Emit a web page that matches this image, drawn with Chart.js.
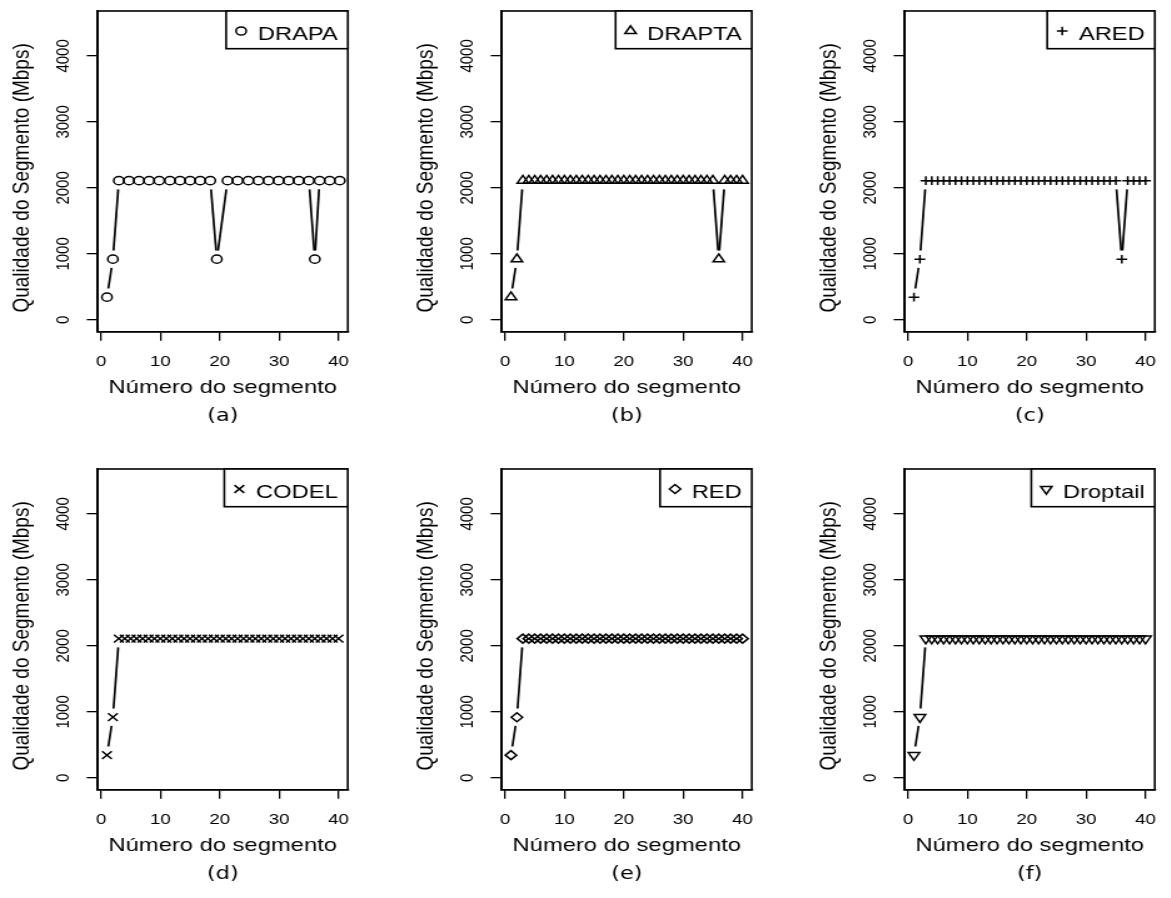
<!DOCTYPE html>
<html>
<head>
<meta charset="utf-8">
<title>Qualidade do segmento</title>
<script src="https://cdn.jsdelivr.net/npm/chart.js"></script>
<style>
  html, body { margin: 0; padding: 0; background: #fff; }
  body { width: 1171px; height: 898px; position: relative; overflow: hidden; }
  /* each panel is laid out narrow and widened horizontally */
  .panel { position: absolute; width: 291.4px; height: 430px; transform: scaleX(1.25); transform-origin: 0 0; }
</style>
</head>
<body>
<div class="panel" style="left:0px;top:0px"><canvas id="pa"></canvas></div>
<div class="panel" style="left:403.5px;top:0px"><canvas id="pb"></canvas></div>
<div class="panel" style="left:807px;top:0px"><canvas id="pc"></canvas></div>
<div class="panel" style="left:0px;top:458.3px"><canvas id="pd"></canvas></div>
<div class="panel" style="left:403.5px;top:458.3px"><canvas id="pe"></canvas></div>
<div class="panel" style="left:807px;top:458.3px"><canvas id="pf"></canvas></div>
<script>
// segment numbers
const segmentos = [1, 2, 3, 4, 5, 6, 7, 8, 9, 10, 11, 12, 13, 14, 15, 16, 17, 18, 19, 20,
                   21, 22, 23, 24, 25, 26, 27, 28, 29, 30, 31, 32, 33, 34, 35, 36, 37, 38, 39, 40];
// DRAPA downloads fewer segments, at its own positions
const segDrapa = [1, 2, 3, 4.7, 6.4, 8.1, 9.8, 11.6, 13.3, 15, 16.7, 18.4, 19.5,
                  21.3, 23, 24.8, 26.5, 28.2, 29.9, 31.6, 33.3, 35, 36, 36.8, 38.5, 40.2];

// quality (Mbps) per segment
const qualDrapa = [345, 920, 2110, 2110, 2110, 2110, 2110, 2110, 2110, 2110, 2110, 2110, 920,
                   2110, 2110, 2110, 2110, 2110, 2110, 2110, 2110, 2110, 920, 2110, 2110, 2110];
const qualDrapta = [345, 920, 2110, 2110, 2110, 2110, 2110, 2110, 2110, 2110, 2110, 2110, 2110, 2110, 2110, 2110, 2110, 2110, 2110, 2110,
                    2110, 2110, 2110, 2110, 2110, 2110, 2110, 2110, 2110, 2110, 2110, 2110, 2110, 2110, 2110, 920, 2110, 2110, 2110, 2110];
const qualAred = [345, 920, 2110, 2110, 2110, 2110, 2110, 2110, 2110, 2110, 2110, 2110, 2110, 2110, 2110, 2110, 2110, 2110, 2110, 2110,
                  2110, 2110, 2110, 2110, 2110, 2110, 2110, 2110, 2110, 2110, 2110, 2110, 2110, 2110, 2110, 920, 2110, 2110, 2110, 2110];
const qualCodel = [345, 920, 2110, 2110, 2110, 2110, 2110, 2110, 2110, 2110, 2110, 2110, 2110, 2110, 2110, 2110, 2110, 2110, 2110, 2110,
                   2110, 2110, 2110, 2110, 2110, 2110, 2110, 2110, 2110, 2110, 2110, 2110, 2110, 2110, 2110, 2110, 2110, 2110, 2110, 2110];
const qualRed = [345, 920, 2110, 2110, 2110, 2110, 2110, 2110, 2110, 2110, 2110, 2110, 2110, 2110, 2110, 2110, 2110, 2110, 2110, 2110,
                 2110, 2110, 2110, 2110, 2110, 2110, 2110, 2110, 2110, 2110, 2110, 2110, 2110, 2110, 2110, 2110, 2110, 2110, 2110, 2110];
const qualDroptail = [345, 920, 2110, 2110, 2110, 2110, 2110, 2110, 2110, 2110, 2110, 2110, 2110, 2110, 2110, 2110, 2110, 2110, 2110, 2110,
                      2110, 2110, 2110, 2110, 2110, 2110, 2110, 2110, 2110, 2110, 2110, 2110, 2110, 2110, 2110, 2110, 2110, 2110, 2110, 2110];

const xTicks = [0, 10, 20, 30, 40];
const yTicks = [0, 1000, 2000, 3000, 4000];
const yTitle = 'Qualidade do Segmento (Mbps)';

Chart.defaults.font.family = "'Liberation Sans', Arial, sans-serif";
Chart.defaults.color = '#000';

// points joined R "type b" style: segments stop short of each marker
const typeB = {
  id: 'typeB',
  beforeDatasetsDraw(chart) {
    const ctx = chart.ctx, area = chart.chartArea, gap = 8.7;
    ctx.save();
    ctx.beginPath();
    ctx.rect(area.left, area.top, area.width, area.height);
    ctx.clip();
    ctx.strokeStyle = '#000';
    ctx.lineWidth = 1.7;
    chart.data.datasets.forEach((ds, i) => {
      const pts = chart.getDatasetMeta(i).data;
      for (let k = 1; k < pts.length; k++) {
        const p = pts[k - 1], q = pts[k];
        const dx = q.x - p.x, dy = q.y - p.y, len = Math.hypot(dx, dy);
        if (len <= 2 * gap) continue;
        const ux = dx / len, uy = dy / len;
        ctx.beginPath();
        ctx.moveTo(p.x + ux * gap, p.y + uy * gap);
        ctx.lineTo(q.x - ux * gap, q.y - uy * gap);
        ctx.stroke();
      }
    });
    ctx.restore();
  },
  // plot frame, y label and boxed legend in the top right corner
  afterDraw(chart) {
    const ctx = chart.ctx, a = chart.chartArea, ds = chart.data.datasets[0];
    ctx.save();
    ctx.strokeStyle = '#000';
    ctx.lineWidth = 1.6;
    ctx.strokeRect(a.left, a.top, a.width, a.height);

    // y label sits a little below the plot middle
    ctx.save();
    ctx.font = "19px 'Liberation Sans', Arial, sans-serif";
    ctx.fillStyle = '#000';
    ctx.textAlign = 'center';
    ctx.textBaseline = 'middle';
    ctx.translate(17.6, (a.top + a.bottom) / 2 + 6.5);
    ctx.rotate(-Math.PI / 2);
    ctx.fillText(yTitle, 0, 0);
    ctx.restore();

    ctx.font = "19px 'Liberation Sans', Arial, sans-serif";
    const tw = ctx.measureText(ds.label).width;
    const w = 25.3 + tw + 8, h = 37.7, x0 = a.right - w, y0 = a.top;
    ctx.fillStyle = '#fff';
    ctx.fillRect(x0, y0, w, h);
    ctx.strokeRect(x0, y0, w, h);
    ctx.fillStyle = '#000';
    ctx.textBaseline = 'alphabetic';
    ctx.fillText(ds.label, x0 + 25.3, y0 + 28.6);
    ctx.fillStyle = 'rgba(0,0,0,0)';
    ctx.lineWidth = 1.5;
    Chart.helpers.drawPoint(ctx, {
      pointStyle: ds.pointStyle, radius: ds.pointRadius,
      rotation: ds.pointRotation || 0, borderWidth: 1.5
    }, x0 + 12, y0 + 20);
    ctx.restore();
  }
};

function makePanel(id, name, tag, xs, ys, style, radius, rot) {
  const pts = xs.map((x, i) => ({ x: x, y: ys[i] }));
  return new Chart(document.getElementById(id), {
    type: 'scatter',
    data: {
      datasets: [{
        label: name,
        data: pts,
        showLine: false,
        pointStyle: style,
        pointRadius: radius,
        pointRotation: rot,
        pointBorderWidth: 1.5,
        pointBorderColor: '#000',
        pointBackgroundColor: 'rgba(0,0,0,0)'
      }]
    },
    options: {
      responsive: true,
      maintainAspectRatio: false,
      animation: false,
      events: [],
      layout: { padding: { top: 10.7, right: 4.04, bottom: 0, left: 0 } },
      plugins: {
        legend: { display: false },
        tooltip: { enabled: false },
        title: {
          display: true, position: 'bottom', fullSize: false, text: tag, color: '#000',
          font: { family: "'DejaVu Sans', sans-serif", size: 18, weight: 'normal' },
          padding: { top: 4, bottom: 2.6 }
        }
      },
      scales: {
        x: {
          type: 'linear', min: -0.56, max: 41.56,
          afterBuildTicks: s => { s.ticks = xTicks.map(v => ({ value: v })); },
          afterFit: s => { s.height = 70; },
          grid: { drawOnChartArea: false, drawTicks: true, tickLength: 9, color: '#000', lineWidth: 1.3 },
          border: { display: true, color: '#000', width: 1.6 },
          ticks: { font: { size: 15 }, color: '#000', padding: 12, maxRotation: 0, autoSkip: false,
                   callback: v => String(v) },
          title: { display: true, text: 'Número do segmento', color: '#000', font: { size: 19 }, padding: { top: 0, bottom: 2.3 } }
        },
        y: {
          type: 'linear', min: -180, max: 4680,
          afterBuildTicks: s => { s.ticks = yTicks.map(v => ({ value: v })); },
          afterFit: s => { s.width = 78.16; },
          grid: { drawOnChartArea: false, drawTicks: true, tickLength: 8.8, color: '#000', lineWidth: 1.3 },
          border: { display: true, color: '#000', width: 1.6 },
          ticks: { font: { size: 15 }, color: '#000', padding: 2, minRotation: 90, maxRotation: 90, crossAlign: 'center', autoSkip: false,
                   callback: v => String(v) },
          title: { display: false }
        }
      }
    },
    plugins: [typeB]
  });
}

makePanel('pa', 'DRAPA', '(a)', segDrapa, qualDrapa, 'circle', 4.1, 0);
makePanel('pb', 'DRAPTA', '(b)', segmentos, qualDrapta, 'triangle', 5.2, 0);
makePanel('pc', 'ARED', '(c)', segmentos, qualAred, 'cross', 4.3, 0);
makePanel('pd', 'CODEL', '(d)', segmentos, qualCodel, 'crossRot', 5.5, 0);
makePanel('pe', 'RED', '(e)', segmentos, qualRed, 'rectRot', 4.5, 0);
makePanel('pf', 'Droptail', '(f)', segmentos, qualDroptail, 'triangle', 5.2, 180);
</script>
</body>
</html>
